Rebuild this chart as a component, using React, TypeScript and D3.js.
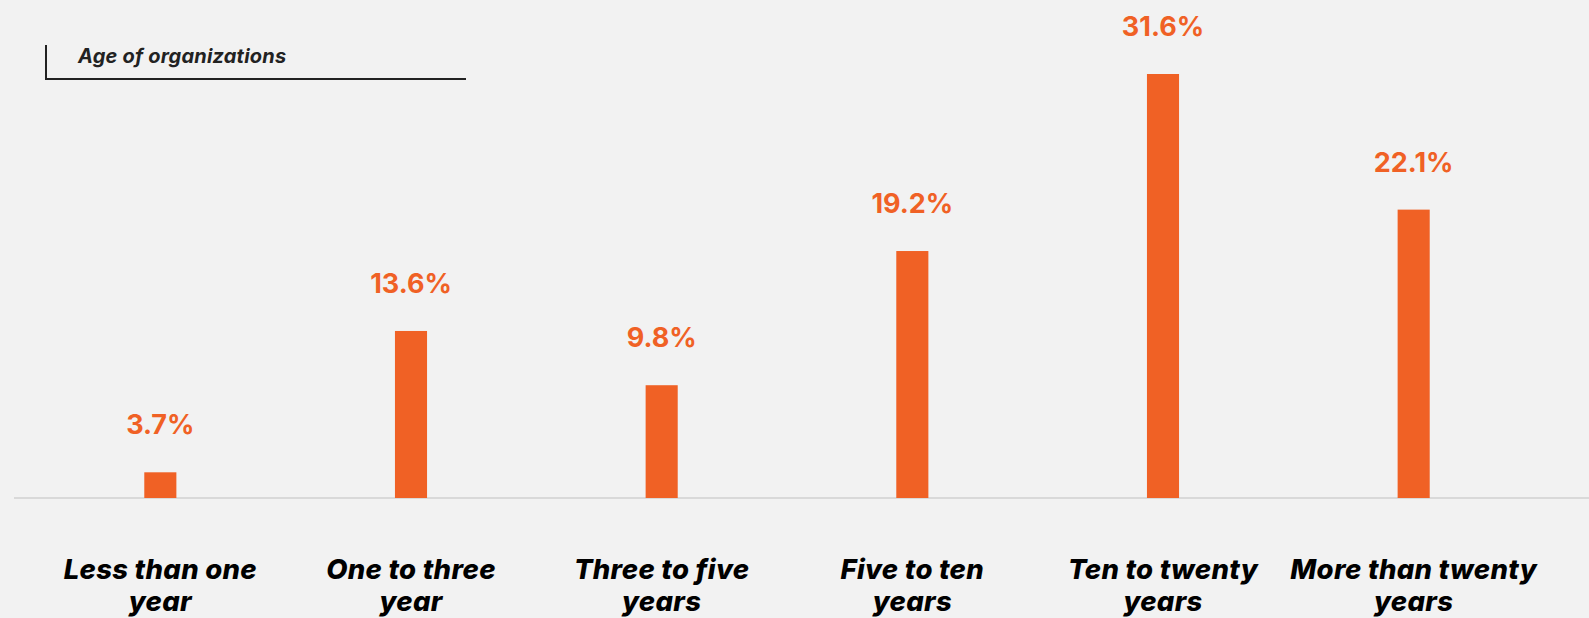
import * as d3 from "d3";
import { useEffect, useRef } from "react";

const categories = [
  ["Less than one", "year"],
  ["One to three", "year"],
  ["Three to five", "years"],
  ["Five to ten", "years"],
  ["Ten to twenty", "years"],
  ["More than twenty", "years"],
];
const values = [3.7, 13.6, 9.8, 19.2, 31.6, 22.1];
const title = "Age of organizations";

const W = 1589, H = 618;

const App = () => {
  const ref = useRef(null);

  useEffect(() => {
    const svg = d3.select(ref.current);
    svg.selectAll("*").remove();

    svg.append("rect").attr("width", W).attr("height", H).attr("fill", "#f2f2f2");

    const baseY = 498;
    const x = d3.scaleBand().domain(d3.range(values.length)).range([35, 1539]).paddingInner(0.872).paddingOuter(0.436);
    const y = d3.scaleLinear().domain([1.9, 31.6]).range([baseY, 74]);

    // title box
    svg.append("path")
      .attr("d", `M46,45 V80 M45,79 H466`)
      .attr("stroke", "#222")
      .attr("stroke-width", 2)
      .attr("fill", "none");
    svg.append("text")
      .attr("x", 78).attr("y", 63)
      .text(title)
      .style("font-family", "Inter, sans-serif")
      .style("font-style", "italic")
      .style("font-weight", 700)
      .style("font-size", "20px")
      .style("letter-spacing", "0.2px")
      .attr("fill", "#222");

    // baseline
    svg.append("line")
      .attr("x1", 14).attr("x2", W)
      .attr("y1", baseY).attr("y2", baseY)
      .attr("stroke", "#d9d9d9").attr("stroke-width", 2);

    svg.selectAll(".bar").data(values).enter()
      .append("rect")
      .attr("x", (d, i) => x(i))
      .attr("y", d => y(d))
      .attr("width", x.bandwidth())
      .attr("height", d => baseY - y(d))
      .attr("fill", "#f06125");

    svg.selectAll(".val").data(values).enter()
      .append("text")
      .attr("x", (d, i) => x(i) + x.bandwidth() / 2)
      .attr("y", d => y(d) - 38)
      .attr("text-anchor", "middle")
      .text(d => d.toFixed(1) + "%")
      .style("font-family", "Inter, sans-serif")
      .style("font-weight", 700)
      .style("font-size", "27px")
      .attr("fill", "#f06125");

    const cat = svg.selectAll(".cat").data(categories).enter()
      .append("text")
      .attr("text-anchor", "middle")
      .style("font-family", "Inter, sans-serif")
      .style("font-style", "italic")
      .style("font-weight", 800)
      .style("font-size", "27.5px")
      .style("letter-spacing", "0.3px")
      .attr("fill", "#000");
    cat.each(function (lines, i) {
      const t = d3.select(this);
      lines.forEach((l, j) => {
        t.append("tspan")
          .attr("x", x(i) + x.bandwidth() / 2)
          .attr("y", 579 + j * 32)
          .text(l);
      });
    });
  }, []);

  return (
    <svg ref={ref} width={W} height={H} style={{ position: "absolute", left: 0, top: 0, display: "block" }} />
  );
};

export default App;
